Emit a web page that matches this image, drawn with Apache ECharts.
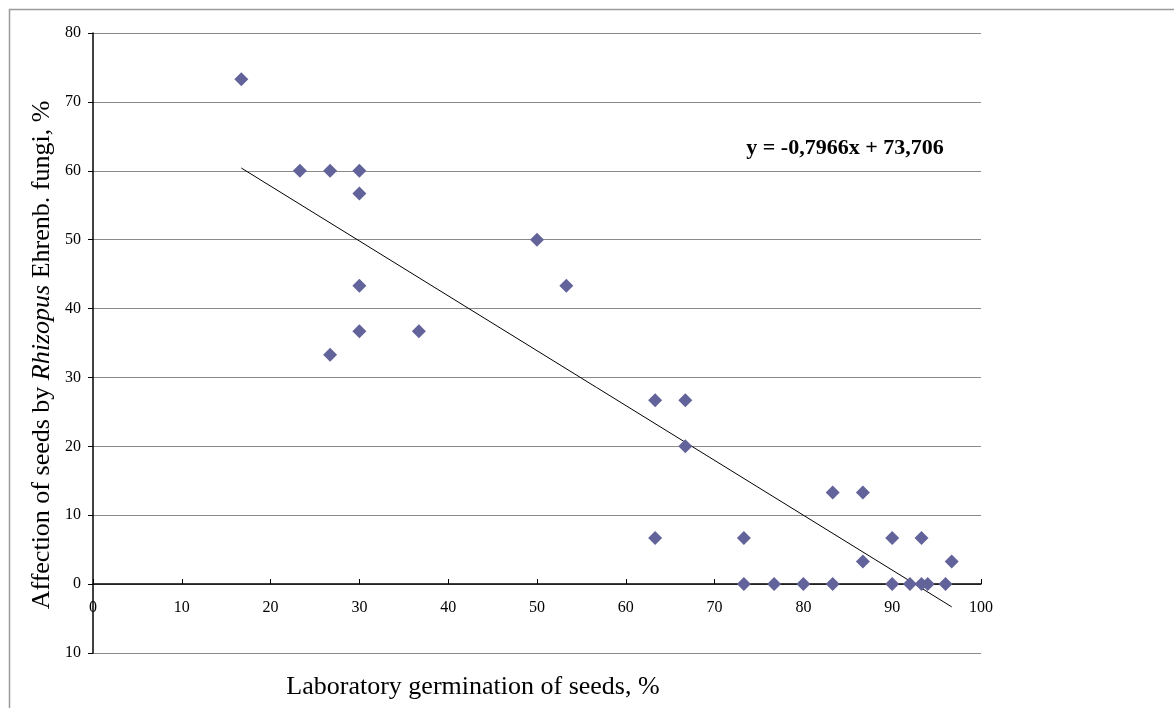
<!DOCTYPE html>
<html lang="en">
<head>
    <meta charset="UTF-8">
    <title>Rhizopus scatter</title>
    <script type="text/javascript" src="https://cdn.jsdelivr.net/npm/echarts@6/dist/echarts.min.js"></script>
    <style>
        html, body { margin: 0; padding: 0; background: #fff; }
    </style>
</head>
<body>
<div id="chart" style="width:1174px; height:708px;"></div>

<script type="text/javascript">
    // germination (x) / affection (y)
    var germination = [16.7, 23.3, 26.7, 30, 30, 50, 53.3, 30, 30, 36.7, 26.7,
        63.3, 66.7, 66.7, 83.3, 86.7, 63.3, 73.3, 90, 93.3, 86.7, 96.7,
        73.3, 76.7, 80, 83.3, 90, 92, 93.3, 94, 96];
    var affection = [73.3, 60, 60, 60, 56.7, 50, 43.3, 43.3, 36.7, 36.7, 33.3,
        26.7, 26.7, 20, 13.3, 13.3, 6.7, 6.7, 6.7, 6.7, 3.3, 3.3,
        0, 0, 0, 0, 0, 0, 0, 0, 0];
    // trend line ends
    var trendX = [16.7, 96.7];
    var trendY = [60.4, -3.3];
    var equation = 'y = -0,7966x + 73,706';

    var points = germination.map(function (x, i) { return [x, affection[i]]; });
    var trend = trendX.map(function (x, i) { return [x, trendY[i]]; });

    var font = '"Liberation Serif", "Times New Roman", serif';
    var myChart = echarts.init(document.getElementById('chart'));
    myChart.setOption({
        animation: false,
        textStyle: { fontFamily: font },
        grid: { left: 93, right: 193, top: 33, bottom: 55 },
        xAxis: {
            type: 'value',
            position: 'bottom',
            offset: -69,   // x axis sits on y = 0
            min: 0, max: 100, interval: 10,
            axisLine: { onZero: false, lineStyle: { color: '#000', width: 1.5 } },
            axisTick: { inside: true, length: 5, lineStyle: { color: '#000' } },
            axisLabel: { color: '#000', fontSize: 16, fontFamily: font, margin: 16 },
            splitLine: { show: false }
        },
        yAxis: {
            type: 'value',
            min: -10, max: 80, interval: 10,
            axisLine: { show: true, onZero: false, lineStyle: { color: '#000', width: 1.5 } },
            axisTick: { show: true, length: 5, lineStyle: { color: '#000' } },
            axisLabel: {
                color: '#000', fontSize: 16, fontFamily: font, margin: 12,
                formatter: function (v) { return Math.abs(v); }
            },
            splitLine: { show: true, lineStyle: { color: '#8a8a8a', width: 1 } }
        },
        graphic: [
            { // outer chart border
                type: 'rect', silent: true, z: -1,
                shape: { x: 9.5, y: 9.5, width: 1200, height: 720 },
                style: { fill: 'none', stroke: '#9a9a9a', lineWidth: 1.5 }
            },
            {
                type: 'text', x: 845, y: 148,
                style: {
                    text: equation, font: 'bold 22px ' + font, fill: '#000',
                    align: 'center', verticalAlign: 'middle'
                }
            },
            {
                type: 'text', x: 473, y: 687,
                style: {
                    text: 'Laboratory germination of seeds, %',
                    font: '26px ' + font, fill: '#000',
                    align: 'center', verticalAlign: 'middle'
                }
            },
            {
                type: 'text', x: 42, y: 355, rotation: Math.PI / 2,
                style: {
                    text: '{n|Affection of seeds by }{i|Rhizopus}{n| Ehrenb. fungi, %}',
                    align: 'center', verticalAlign: 'middle',
                    rich: {
                        n: { font: '26px ' + font, fill: '#000' },
                        i: { font: 'italic 26px ' + font, fill: '#000' }
                    }
                }
            }
        ],
        series: [
            {
                type: 'line',
                data: trend,
                symbol: 'none',
                lineStyle: { color: '#000', width: 1 },
                z: 3
            },
            {
                type: 'scatter',
                data: points,
                symbol: 'diamond',
                symbolSize: [14, 14],
                itemStyle: { color: '#63639b', opacity: 1 },
                z: 4
            }
        ]
    });
</script>

</body>
</html>
